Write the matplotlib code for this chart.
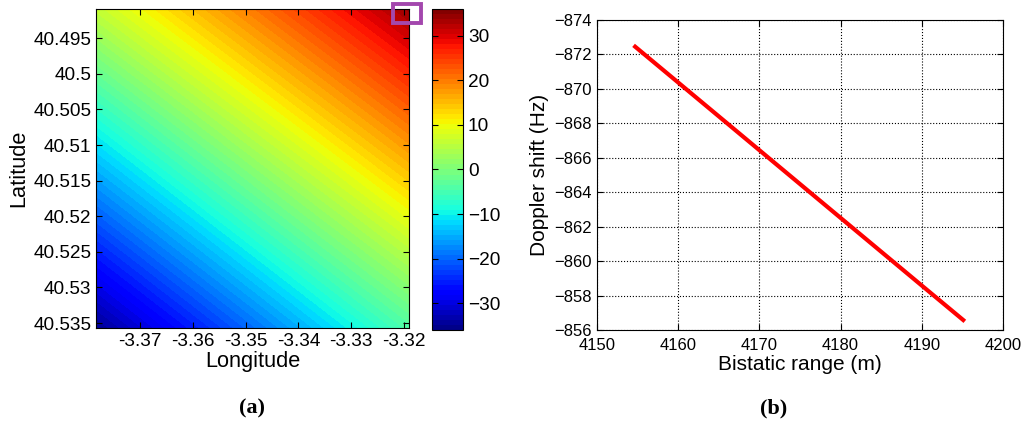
import numpy as np
import matplotlib
matplotlib.use('Agg')
import matplotlib.pyplot as plt
from matplotlib.patches import Rectangle
from matplotlib.ticker import FormatStrFormatter

# panel (a): Doppler map corners (rows: top -> bottom latitude)
lon_grid = [-3.3783, -3.3191]
lat_grid = [40.4909, 40.5357]
doppler_grid = [[6, 34],
                [-35, -4]]
lon_ticks = [-3.37, -3.36, -3.35, -3.34, -3.33, -3.32]
lat_ticks = [40.495, 40.5, 40.505, 40.51, 40.515, 40.52, 40.525, 40.53, 40.535]
cbar_ticks = [-30, -20, -10, 0, 10, 20, 30]
cmin, cmax = -36, 36
# highlighted cell (lon0, lon1, lat0, lat1)
box = [-3.3222, -3.3169, 40.4902, 40.4928]

# panel (b): Doppler shift vs bistatic range
bistatic = [4154.7, 4160, 4170, 4180, 4190, 4195.1]
doppler = [-872.45, -870.37, -866.44, -862.51, -858.58, -856.58]
xticks_b = [4150, 4160, 4170, 4180, 4190, 4200]
yticks_b = [-874, -872, -870, -868, -866, -864, -862, -860, -858, -856]

plt.rcParams['font.family'] = ['Liberation Sans', 'DejaVu Sans']
plt.rcParams['axes.unicode_minus'] = True

W, H = 1024, 423
fig = plt.figure(figsize=(W / 100, H / 100), dpi=100)

def box_px(x0, y0, x1, y1):
    return [x0 / W, 1 - y1 / H, (x1 - x0) / W, (y1 - y0) / H]

# ---- (a)
ax1 = fig.add_axes(box_px(96, 9, 409, 328))
lon, lat = np.meshgrid(lon_grid, lat_grid)
levels = np.linspace(cmin, cmax, 65)
cs = ax1.contourf(lon, lat, np.array(doppler_grid), levels=levels, cmap='jet',
                  vmin=cmin, vmax=cmax)
ax1.set_xlim(lon_grid[0], lon_grid[-1])
ax1.set_ylim(lat_grid[-1], lat_grid[0])
ax1.set_xticks(lon_ticks)
ax1.set_yticks(lat_ticks)
ax1.yaxis.set_major_formatter(FormatStrFormatter('%g'))
ax1.xaxis.set_major_formatter(FormatStrFormatter('%g'))
ax1.tick_params(direction='in', top=True, right=True, length=4, labelsize=13.7)
ax1.set_xlabel('Longitude', fontsize=15.7, labelpad=1)
ax1.set_ylabel('Latitude', fontsize=15.7, labelpad=3)
ax1.add_patch(Rectangle((box[0], box[2]), box[1] - box[0], box[3] - box[2],
                        fill=False, edgecolor='#a347ad', linewidth=2.8,
                        clip_on=False, zorder=5))

cax = fig.add_axes(box_px(432, 9, 463, 330))
cb = fig.colorbar(cs, cax=cax, ticks=cbar_ticks)
cb.ax.tick_params(direction='in', length=4, left=True, right=True, labelsize=13.7)
cb.outline.set_linewidth(0.8)

# ---- (b)
ax2 = fig.add_axes(box_px(597, 20, 1003, 330))
ax2.plot(bistatic, doppler, color='red', linewidth=3)
ax2.set_xlim(4150, 4200)
ax2.set_ylim(-856, -874)
ax2.set_xticks(xticks_b)
ax2.set_yticks(yticks_b)
ax2.grid(True, color='black', linestyle=':', linewidth=0.8)
ax2.tick_params(direction='in', top=True, right=True, length=4, labelsize=12)
ax2.tick_params(axis='x', pad=6)
ax2.set_xlabel('Bistatic range (m)', fontsize=15, labelpad=1)
ax2.set_ylabel('Doppler shift (Hz)', fontsize=15, labelpad=4)

fig.text(252 / W, 1 - 408 / H, '(a)', fontsize=16, fontweight='bold',
         family='Liberation Serif', ha='center', va='center')
fig.text(774 / W, 1 - 408 / H, '(b)', fontsize=16, fontweight='bold',
         family='Liberation Serif', ha='center', va='center')

fig.savefig('out.png', dpi=100)
